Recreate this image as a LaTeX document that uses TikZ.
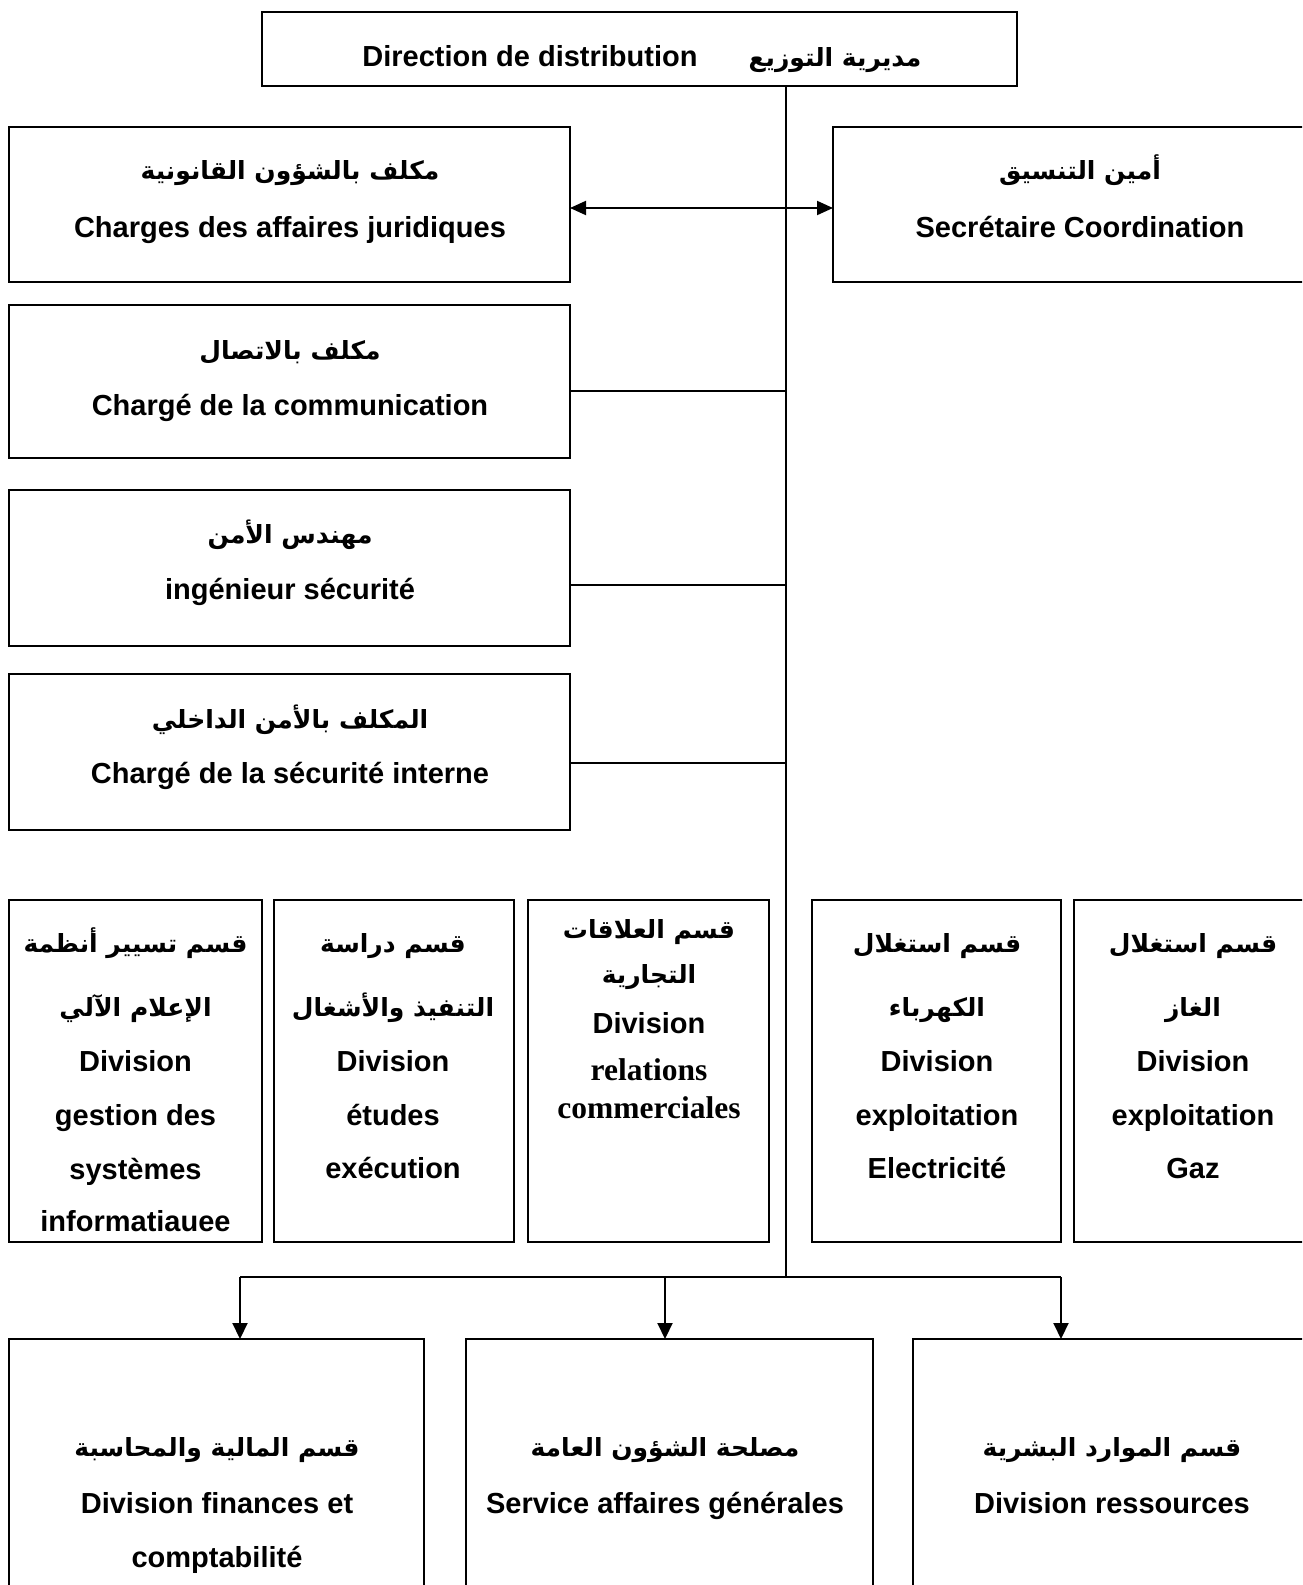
\documentclass[tikz,border=0pt]{standalone}
\usepackage{fontspec}
\setmainfont{Liberation Sans}
\newfontfamily\arabicfont[Script=Arabic]{DejaVu Sans}
\newfontfamily\serifbold{Liberation Serif}
\TeXXeTstate=1
\usetikzlibrary{arrows.meta}
\newcommand\artxt[1]{{\arabicfont\bfseries\beginR #1\endR}}
\tikzset{
  box/.style={draw, line width=2pt, inner sep=0pt, outer sep=0pt},
  fr/.style={font=\fontsize{29}{34}\selectfont\bfseries, inner sep=0pt, text height=21pt, text depth=0pt},
  frs/.style={font=\fontsize{31.5}{36}\selectfont\serifbold\bfseries, inner sep=0pt, text height=21pt, text depth=0pt},
  ar/.style={font=\fontsize{25}{30}\selectfont, inner sep=0pt, text height=20pt, text depth=0pt},
  link/.style={line width=2pt},
  arr/.style={line width=2pt, -{Triangle[length=16pt,width=15pt]}},
  darr/.style={line width=2pt, {Triangle[length=16pt,width=14pt]}-{Triangle[length=16pt,width=14pt]}}
}
\begin{document}
\begin{tikzpicture}[x=1pt,y=-1pt]
\useasboundingbox (0,0) rectangle (1302,1585);
\clip (0,0) rectangle (1302,1585);
\fill[white] (0,0) rectangle (1302,1585);

% top box
\node[box, minimum width=755pt, minimum height=74pt] (top) at (639.5,49) {};
\node[fr] (topfr) at (530,56) {Direction de distribution};
\node[ar] (topar) at (835,56) {\artxt{مديرية التوزيع}};

% trunk coordinates
\coordinate (tend) at (785.5,1277);
\coordinate (j2) at (785.5,391);
\coordinate (j3) at (785.5,585);
\coordinate (j4) at (785.5,763);

% left column boxes
\node[box, minimum width=561pt, minimum height=155pt] (b1) at (289.5,204.5) {};
\node[ar] (b1ar) at (290,169) {\artxt{مكلف بالشؤون القانونية}};
\node[fr] (b1fr) at (290,227) {Charges des affaires juridiques};

\node[box, minimum width=500pt, minimum height=155pt] (sec) at (1083,204.5) {};
\node[ar] (secar) at (1080,169) {\artxt{أمين التنسيق}};
\node[fr] (secfr) at (1080,227) {Secrétaire Coordination};

\node[box, minimum width=561pt, minimum height=153pt] (b2) at (289.5,381.5) {};
\node[ar] (b2ar) at (290,349) {\artxt{مكلف بالاتصال}};
\node[fr] (b2fr) at (290,405) {Chargé de la communication};

\node[box, minimum width=561pt, minimum height=156pt] (b3) at (289.5,568) {};
\node[ar] (b3ar) at (290,533) {\artxt{مهندس الأمن}};
\node[fr] (b3fr) at (290,589) {ingénieur sécurité};

\node[box, minimum width=561pt, minimum height=156pt] (b4) at (289.5,752) {};
\node[ar] (b4ar) at (290,718) {\artxt{المكلف بالأمن الداخلي}};
\node[fr] (b4fr) at (290,773) {Chargé de la sécurité interne};

% middle row
\node[box, minimum width=253pt, minimum height=342pt] (ma) at (135.5,1071) {};
\node[ar] (maar1) at (135.5,942) {\artxt{قسم تسيير أنظمة}};
\node[ar] (maar2) at (135.5,1006) {\artxt{الإعلام الآلي}};
\node[fr] (mafr1) at (135.5,1061) {Division};
\node[fr] (mafr2) at (135.5,1115) {gestion des};
\node[fr] (mafr3) at (135.5,1169) {systèmes};
\node[fr] (mafr4) at (135.5,1221) {informatiauee};

\node[box, minimum width=240pt, minimum height=342pt] (mb) at (394,1071) {};
\node[ar] (mbar1) at (393,942) {\artxt{قسم دراسة}};
\node[ar] (mbar2) at (393,1006) {\artxt{التنفيذ والأشغال}};
\node[fr] (mbfr1) at (393,1061) {Division};
\node[fr] (mbfr2) at (393,1115) {études};
\node[fr] (mbfr3) at (393,1168) {exécution};

\node[box, minimum width=241pt, minimum height=342pt] (mc) at (648.5,1071) {};
\node[ar] (mcar1) at (649,928) {\artxt{قسم العلاقات}};
\node[ar] (mcar2) at (649,973) {\artxt{التجارية}};
\node[fr] (mcfr1) at (649,1023) {Division};
\node[frs] (mcfr2) at (649,1070) {relations};
\node[frs] (mcfr3) at (649,1108) {commerciales};

\node[box, minimum width=249pt, minimum height=342pt] (md) at (936.5,1071) {};
\node[ar] (mdar1) at (937,942) {\artxt{قسم استغلال}};
\node[ar] (mdar2) at (937,1006) {\artxt{الكهرباء}};
\node[fr] (mdfr1) at (937,1061) {Division};
\node[fr] (mdfr2) at (937,1115) {exploitation};
\node[fr] (mdfr3) at (937,1168) {Electricité};

\node[box, minimum width=256pt, minimum height=342pt] (me) at (1202,1071) {};
\node[ar] (mear1) at (1193,942) {\artxt{قسم استغلال}};
\node[ar] (mear2) at (1193,1006) {\artxt{الغاز}};
\node[fr] (mefr1) at (1193,1061) {Division};
\node[fr] (mefr2) at (1193,1115) {exploitation};
\node[fr] (mefr3) at (1193,1168) {Gaz};

% bottom row
\node[box, minimum width=415pt, minimum height=340pt] (bl) at (216.5,1509) {};
\node[ar] (blar) at (217,1446) {\artxt{قسم المالية والمحاسبة}};
\node[fr] (blfr1) at (217,1503) {Division finances et};
\node[fr] (blfr2) at (217,1557) {comptabilité};

\node[box, minimum width=407pt, minimum height=340pt] (bm) at (669.5,1509) {};
\node[ar] (bmar) at (665,1446) {\artxt{مصلحة الشؤون العامة}};
\node[fr] (bmfr) at (665,1503) {Service affaires générales};

\node[box, minimum width=420pt, minimum height=340pt] (br) at (1123,1509) {};
\node[ar] (brar) at (1112,1446) {\artxt{قسم الموارد البشرية}};
\node[fr] (brfr) at (1112,1503) {Division ressources};

% connectors
\draw[link] (top.south -| tend) -- (tend);
\draw[darr] ([yshift=-3.5pt]b1.east) -- ([yshift=-3.5pt]sec.west);
\draw[link] (b2.east |- j2) -- (j2);
\draw[link] (b3.east |- j3) -- (j3);
\draw[link] (b4.east |- j4) -- (j4);

\coordinate (kl) at (240,1277);
\coordinate (km) at (665,1277);
\coordinate (kr) at (1061,1277);
\draw[link] (kl) -- (kr);
\draw[arr] (kl) -- (bl.north -| kl);
\draw[arr] (km) -- (bm.north -| km);
\draw[arr] (kr) -- (br.north -| kr);
\end{tikzpicture}
\end{document}
